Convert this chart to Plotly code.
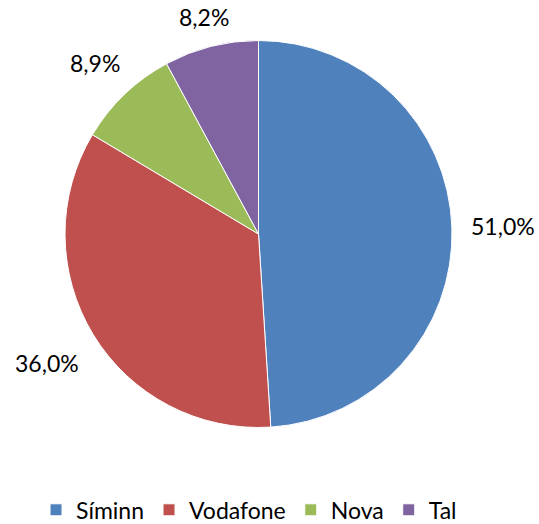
import math
import plotly.graph_objects as go

labels = ["Síminn", "Vodafone", "Nova", "Tal"]
values = [51.0, 36.0, 8.9, 8.2]
colors = ["#4F81BD", "#C0504D", "#9BBB59", "#8064A2"]
text_labels = [f"{v:.1f}".replace(".", ",") + "%" for v in values]

W, H = 539, 524
FONT = "Lato"
FS = 23

# pie geometry (pixels)
cx, cy, r = 258.5, 234.0, 193.5

fig = go.Figure(go.Pie(
    labels=labels, values=values, sort=False, direction="clockwise", rotation=0,
    marker=dict(colors=colors, line=dict(color="white", width=1)),
    textinfo="none", hoverinfo="label+percent",
    domain=dict(x=[(cx - r) / W, (cx + r) / W], y=[1 - (cy + r) / H, 1 - (cy - r) / H]),
))

# data labels placed outside slices, computed from the values
total = sum(values)
cum = 0.0
for v, t in zip(values, text_labels):
    mid = (cum + v / 2) / total * 2 * math.pi
    cum += v
    sx, cyv = math.sin(mid), math.cos(mid)
    d = r - 3.5 + 10.7 * len(t) * abs(sx) + 23.9 * abs(cyv)
    px, py = cx + sx * d, cy - cyv * d
    fig.add_annotation(x=px / W, y=1 - py / H, xref="paper", yref="paper", text=t,
                       showarrow=False, xanchor="center", yanchor="middle",
                       font=dict(family=FONT, size=FS, color="#000000"))

fig.update_layout(
    width=W, height=H, margin=dict(l=0, r=0, t=0, b=0, autoexpand=False),
    paper_bgcolor="white", plot_bgcolor="white",
    font=dict(family=FONT, size=FS, color="#000000"),
    showlegend=True,
    legend=dict(orientation="h", x=0.462, xanchor="center", y=-0.014, yanchor="bottom",
                font=dict(family=FONT, size=FS), itemclick=False),
)

fig.write_html("out.html", config={"displayModeBar": False},
               post_script="document.body.style.margin='0';")
